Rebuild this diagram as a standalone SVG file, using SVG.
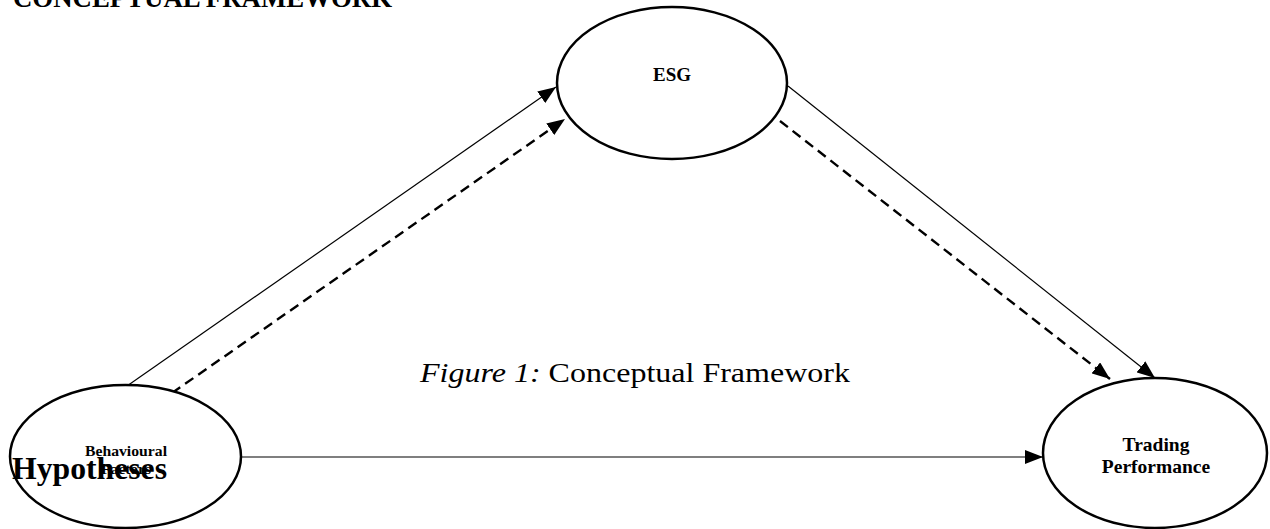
<svg xmlns="http://www.w3.org/2000/svg" width="1270" height="529" viewBox="0 0 1270 529">
<style>
.node{fill:#fff;stroke:#000;stroke-width:2.5}
.lbl{font-family:"Liberation Serif","Times New Roman",serif;font-weight:bold;fill:#000;text-anchor:middle}
.solid{stroke:#000;stroke-width:1.2;fill:none}
.dash{stroke:#000;stroke-width:2.4;fill:none;stroke-dasharray:10 6}
.plain{font-family:"Liberation Serif","Times New Roman",serif;fill:#000}
</style>
<defs>
<marker id="ah" viewBox="0 0 18 14" refX="18" refY="7" markerWidth="18" markerHeight="14" markerUnits="userSpaceOnUse" orient="auto">
<path d="M0,0 L18,7 L0,14 Z" fill="#000"/>
</marker>
</defs>
<rect width="1270" height="529" fill="#fff"/>
<text class="plain" x="13" y="7" font-size="28" font-weight="bold" textLength="379" lengthAdjust="spacingAndGlyphs">CONCEPTUAL FRAMEWORK</text>
<g id="connectors">
<line class="solid" x1="127" y1="386" x2="556" y2="87" marker-end="url(#ah)"/>
<line class="dash" x1="172" y1="393" x2="565" y2="119" marker-end="url(#ah)"/>
<line class="solid" x1="788" y1="86" x2="1155" y2="378" marker-end="url(#ah)"/>
<line class="dash" x1="780" y1="121" x2="1110" y2="379" marker-end="url(#ah)"/>
<line class="solid" x1="241" y1="457" x2="1043" y2="457" marker-end="url(#ah)"/>
</g>
<g id="esg">
<ellipse class="node" cx="672" cy="83" rx="115" ry="76"/>
<text class="lbl" x="672" y="81" font-size="19">ESG</text>
</g>
<g id="behavioural">
<ellipse class="node" cx="125.5" cy="456.5" rx="115.5" ry="71.5"/>
<text class="lbl" x="126" y="456" font-size="15" textLength="82" lengthAdjust="spacingAndGlyphs">Behavioural</text>
<text class="lbl" x="126" y="474" font-size="15" textLength="50" lengthAdjust="spacingAndGlyphs">Factors</text>
</g>
<g id="trading">
<ellipse class="node" cx="1155" cy="453" rx="112" ry="75"/>
<text class="lbl" x="1156" y="451" font-size="19.5">Trading</text>
<text class="lbl" x="1156" y="473" font-size="19.5">Performance</text>
</g>
<text class="plain" x="420" y="382" font-size="28" textLength="430" lengthAdjust="spacingAndGlyphs"><tspan font-style="italic">Figure 1:</tspan> Conceptual Framework</text>
<text class="plain" x="12" y="479" font-size="32" font-weight="bold" textLength="155" lengthAdjust="spacingAndGlyphs">Hypotheses</text>
</svg>
